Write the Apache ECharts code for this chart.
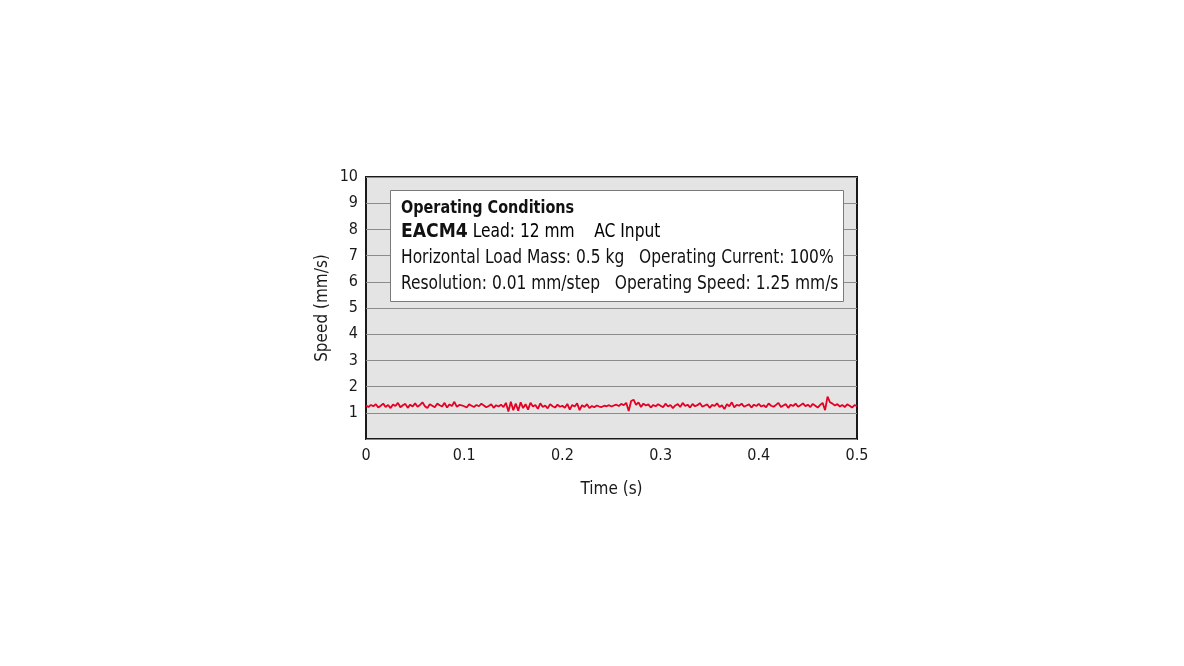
<!DOCTYPE html>
<html>
<head>
<meta charset="utf-8">
<script src="https://cdn.jsdelivr.net/npm/echarts@6/dist/echarts.min.js"></script>
<style>
html,body{margin:0;padding:0;background:#fff;}
#c{width:1184px;height:666px;}
</style>
</head>
<body>
<div id="c"></div>
<script>
// Data
const sampleStep = 0.0025; // s between samples
const speed = [
1.28,1.22,1.30,1.25,1.33,1.20,1.27,1.35,1.22,1.30,1.18,1.32,1.26,1.38,1.21,1.29,1.34,1.19,1.31,1.24,
1.36,1.23,1.30,1.40,1.25,1.18,1.33,1.27,1.21,1.35,1.29,1.24,1.38,1.20,1.32,1.26,1.42,1.23,1.30,1.28,
1.25,1.20,1.32,1.27,1.22,1.30,1.25,1.35,1.28,1.21,1.26,1.33,1.19,1.29,1.24,1.31,1.22,1.38,1.05,1.42,
1.10,1.35,1.08,1.40,1.18,1.33,1.12,1.38,1.24,1.30,1.15,1.36,1.22,1.28,1.17,1.33,1.25,1.20,1.31,1.23,
1.27,1.19,1.34,1.12,1.30,1.24,1.36,1.10,1.29,1.22,1.33,1.18,1.26,1.21,1.28,1.24,1.22,1.27,1.25,1.29,
1.24,1.28,1.31,1.26,1.34,1.29,1.38,1.07,1.45,1.50,1.30,1.40,1.22,1.35,1.28,1.32,1.20,1.30,1.25,1.33,
1.27,1.21,1.35,1.24,1.30,1.18,1.28,1.33,1.22,1.38,1.26,1.31,1.20,1.34,1.25,1.29,1.37,1.23,1.28,1.32,
1.19,1.30,1.26,1.36,1.22,1.29,1.14,1.33,1.25,1.40,1.21,1.30,1.27,1.35,1.23,1.28,1.32,1.20,1.31,1.26,
1.34,1.24,1.29,1.21,1.36,1.27,1.23,1.30,1.38,1.22,1.28,1.33,1.19,1.31,1.26,1.35,1.23,1.29,1.36,1.25,
1.31,1.22,1.34,1.27,1.20,1.30,1.38,1.10,1.62,1.40,1.35,1.28,1.33,1.24,1.30,1.22,1.32,1.27,1.20,1.29,
1.26
];
const xTicks = [0, 0.1, 0.2, 0.3, 0.4, 0.5];
const yTicks = [1,2,3,4,5,6,7,8,9,10];
const xName = 'Time (s)';
const yName = 'Speed (mm/s)';
const boxTitle = 'Operating Conditions';
const boxModel = 'EACM4';
const boxLines = [
  ' Lead: 12 mm    AC Input',
  'Horizontal Load Mass: 0.5 kg   Operating Current: 100%',
  'Resolution: 0.01 mm/step   Operating Speed: 1.25 mm/s'
];

const FONT = '"DejaVu Sans Condensed","Liberation Sans",sans-serif';
const SX = 0.905;
const seriesData = speed.map((v, i) => [i * sampleStep, v]);

const chart = echarts.init(document.getElementById('c'), null, {renderer: 'canvas'});
chart.setOption({
  animation: false,
  backgroundColor: '#ffffff',
  textStyle: {fontFamily: FONT},
  grid: {
    left: 366, top: 177, right: 327, bottom: 227,
    show: true, backgroundColor: '#e4e4e4', borderColor: '#1a1a1a', borderWidth: 2
  },
  xAxis: {
    type: 'value', min: 0, max: 0.5, interval: 0.1,
    name: xName, nameLocation: 'middle', nameGap: 42,
    nameTextStyle: {fontFamily: FONT, fontSize: 17, color: '#1a1a1a'},
    axisLine: {show: false}, axisTick: {show: false}, splitLine: {show: false},
    axisLabel: {fontFamily: FONT, fontSize: 16, color: '#1a1a1a', margin: 9,
      formatter: v => (xTicks.indexOf(+v.toFixed(1)) >= 0 ? String(+v.toFixed(1)) : '')}
  },
  yAxis: {
    type: 'value', min: 0, max: 10, interval: 1,
    name: yName, nameLocation: 'middle', nameGap: 35, nameRotate: 90,
    nameTextStyle: {fontFamily: FONT, fontSize: 17, color: '#1a1a1a'},
    axisLine: {show: false}, axisTick: {show: false},
    splitLine: {show: true, lineStyle: {color: '#8c8c8c', width: 1}},
    axisLabel: {fontFamily: FONT, fontSize: 16, color: '#1a1a1a', margin: 8,
      formatter: v => (yTicks.indexOf(v) >= 0 ? String(v) : '')}
  },
  series: [{
    type: 'line', data: seriesData, showSymbol: false, symbol: 'none',
    lineStyle: {color: '#e60023', width: 1.8}, z: 3
  }],
  graphic: [
    {type: 'rect', z: 10, shape: {x: 390.5, y: 190.5, width: 453, height: 111},
     style: {fill: '#ffffff', stroke: '#7a7a7a', lineWidth: 1}},
    {type: 'text', z: 11, x: 401, y: 199, scaleX: 0.89,
     style: {text: boxTitle, font: 'bold 18px ' + FONT, fill: '#111', verticalAlign: 'top'}},
    {type: 'text', z: 11, x: 401, y: 223, scaleX: SX,
     style: {
       text: '{b|' + boxModel + '}{n|' + boxLines[0] + '}',
       verticalAlign: 'top',
       rich: {
         b: {fontFamily: '"DejaVu Sans","Liberation Sans",sans-serif', fontWeight: 900, fontSize: 19, fill: '#111', color: '#111'},
         n: {fontFamily: FONT, fontSize: 19, color: '#111'}
       }
     }},
    {type: 'text', z: 11, x: 401, y: 249, scaleX: SX,
     style: {text: boxLines[1], font: '19px ' + FONT, fill: '#111', verticalAlign: 'top'}},
    {type: 'text', z: 11, x: 401, y: 275, scaleX: SX,
     style: {text: boxLines[2], font: '19px ' + FONT, fill: '#111', verticalAlign: 'top'}}
  ]
});
</script>
</body>
</html>
